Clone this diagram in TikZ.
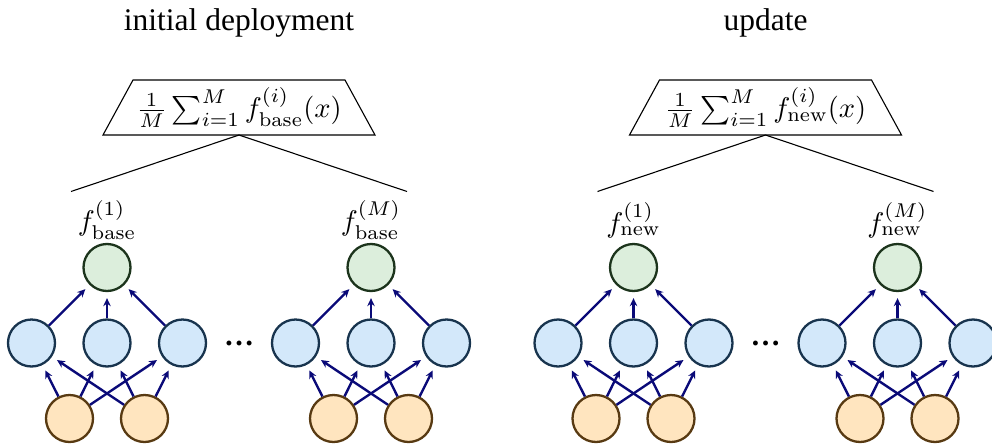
\documentclass[tikz,border=0pt]{standalone}
\usepackage{graphicx}
\usepackage{fontspec}
\newfontfamily\titlefont{Liberation Serif}
\usetikzlibrary{arrows.meta}
\definecolor{gfill}{RGB}{220,238,220}
\definecolor{gdraw}{RGB}{28,52,28}
\definecolor{bfill}{RGB}{211,232,250}
\definecolor{bdraw}{RGB}{24,52,78}
\definecolor{ofill}{RGB}{255,229,191}
\definecolor{odraw}{RGB}{88,58,18}
\definecolor{navyc}{RGB}{10,10,120}
\newcommand{\mybigmath}[1]{\scalebox{2.85}{#1}}
\begin{document}
\begin{tikzpicture}[x=1pt,y=-1pt,
  neuron/.style={circle,minimum size=47pt,inner sep=0pt,line width=2.3pt},
  outn/.style={neuron,fill=gfill,draw=gdraw},
  hidn/.style={neuron,fill=bfill,draw=bdraw},
  inn/.style={neuron,fill=ofill,draw=odraw},
  conn/.style={draw=navyc,line width=2.4pt,-{Stealth[length=8pt,width=7.5pt]},shorten >=6pt},
  mathlab/.style={inner sep=0pt},
  titlelab/.style={inner sep=0pt,font=\titlefont\fontsize{31.5}{36}\selectfont},
  dotslab/.style={inner sep=0pt,anchor=base,font=\titlefont\bfseries\fontsize{30}{36}\selectfont},
  trap/.style={draw=black,line width=1.1pt},
  ]
\useasboundingbox (0,0) rectangle (992,447);
\clip (0,0) rectangle (992,447);
\node[titlelab] (t1) at (239,23) {initial deployment};
\node[titlelab] (t2) at (765.5,23) {update};
\foreach \g/\xc/\nm in {a/239/base, b/765.5/new} {
  \pgfmathsetmacro\tl{\xc-106}
  \pgfmathsetmacro\tr{\xc+106}
  \pgfmathsetmacro\bl{\xc-136}
  \pgfmathsetmacro\br{\xc+136}
  \pgfmathsetmacro\ll{\xc-168}
  \pgfmathsetmacro\lr{\xc+168}
  \draw[trap] (\tl,80) -- (\tr,80) -- (\br,135) -- (\bl,135) -- cycle;
  \node[mathlab] (\g sum) at (\xc,107.5) {\mybigmath{$\frac{1}{M}\sum_{i=1}^{M} f^{(i)}_{\mathrm{\nm}}(x)$}};
  \coordinate (\g tip) at (\xc,135);
  \coordinate (\g L) at (\ll,191.5);
  \coordinate (\g R) at (\lr,191.5);
  \draw[trap] (\g L) -- (\g tip) -- (\g R);
  \node[dotslab] (\g dots) at (\xc,345.5) {…};
  \foreach \k/\dx/\lab in {1/-132/1, 2/132/M} {
    \pgfmathsetmacro\cx{\xc+\dx}
    \pgfmathsetmacro\cl{\cx-75.5}
    \pgfmathsetmacro\cr{\cx+75.5}
    \pgfmathsetmacro\il{\cx-37.5}
    \pgfmathsetmacro\ir{\cx+37.5}
    \node[mathlab] (\g\k lab) at (\cx,220) {\mybigmath{$f^{(\lab)}_{\mathrm{\nm}}$}};
    \node[outn] (\g\k o) at (\cx,267.5) {};
    \node[hidn] (\g\k h1) at (\cl,343) {};
    \node[hidn] (\g\k h2) at (\cx,343) {};
    \node[hidn] (\g\k h3) at (\cr,343) {};
    \node[inn] (\g\k i1) at (\il,418.5) {};
    \node[inn] (\g\k i2) at (\ir,418.5) {};
    \foreach \j in {1,2,3} {
      \draw[conn] (\g\k h\j) -- (\g\k o);
      \draw[conn] (\g\k i1) -- (\g\k h\j);
      \draw[conn] (\g\k i2) -- (\g\k h\j);
    }
  }
}
\end{tikzpicture}
\end{document}
